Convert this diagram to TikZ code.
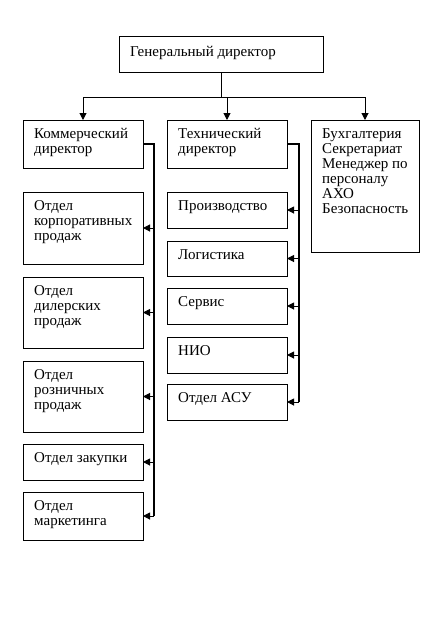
\documentclass[tikz,border=0pt]{standalone}
\usepackage{fontspec}
\setmainfont{Liberation Serif}
\usetikzlibrary{positioning,calc,arrows.meta}

\tikzset{
    unit/.style={draw, line width=1pt, anchor=north west, inner sep=0pt, outer sep=0pt},
    txt/.style={anchor=north west, align=left, inner sep=0pt, font=\fontsize{15}{15}\selectfont},
    link/.style={line width=1pt, -{Triangle[width=7pt,length=7pt]}},
    bus/.style={line width=2pt},
}
% name, x, y, width, height, text
\newcommand{\unitbox}[6]{%
    \node[unit, minimum width=#4pt, minimum height=#5pt] (#1) at (#2,#3) {};
    \node[txt] (#1t) at ($(#1.north west)+(11,8.5)$) {#6};
}

\begin{document}
\begin{tikzpicture}[x=1pt,y=-1pt]
    \useasboundingbox (0,0) rectangle (433,625);

    % General director
    \node[unit, minimum width=204pt, minimum height=36pt] (gen) at (119,36) {};
    \node[txt] (gent) at ($(gen.north west)+(11,10.5)$) {Генеральный директор};

    % Commercial
    \unitbox{kom}{23}{120}{120}{48}{Коммерческий\\директор}
    \unitbox{kp}{23}{192}{120}{72}{Отдел\\корпоративных\\продаж}
    \unitbox{dp}{23}{277}{120}{71}{Отдел\\дилерских\\продаж}
    \unitbox{rp}{23}{361}{120}{71}{Отдел\\розничных\\продаж}
    \unitbox{zk}{23}{444}{120}{36}{Отдел закупки}
    \unitbox{mk}{23}{492}{120}{48}{Отдел\\маркетинга}

    % Technical
    \unitbox{tex}{167}{120}{120}{48}{Технический\\директор}
    \unitbox{pr}{167}{192}{120}{36}{Производство}
    \unitbox{lg}{167}{241}{120}{35}{Логистика}
    \unitbox{sv}{167}{288}{120}{36}{Сервис}
    \unitbox{nio}{167}{337}{120}{36}{НИО}
    \unitbox{asu}{167}{384}{120}{36}{Отдел АСУ}

    % Staff units
    \unitbox{bux}{311}{120}{108}{132}{Бухгалтерия\\Секретариат\\Менеджер по\\персоналу\\АХО\\Безопасность}

    % top level links
    \draw[line width=1pt] (gen.south) -- ++(0,25) coordinate (split);
    \draw[line width=1pt] (kom.north |- split) -- (bux.north |- split);
    \foreach \n in {kom,tex,bux}
        \draw[link] (\n.north |- split) -- (\n.north);

    % commercial bus
    \coordinate (kbus) at ($(kom.east)+(11,0)$);
    \draw[bus] (kom.east) -- (kbus) -- (kbus |- mk.east);
    \foreach \n in {kp,dp,rp,zk,mk}
        \draw[link] (kbus |- \n.east) -- (\n.east);

    % technical bus
    \coordinate (tbus) at ($(tex.east)+(12,0)$);
    \draw[bus] (tex.east) -- (tbus) -- (tbus |- asu.east);
    \foreach \n in {pr,lg,sv,nio,asu}
        \draw[link] (tbus |- \n.east) -- (\n.east);
\end{tikzpicture}
\end{document}
